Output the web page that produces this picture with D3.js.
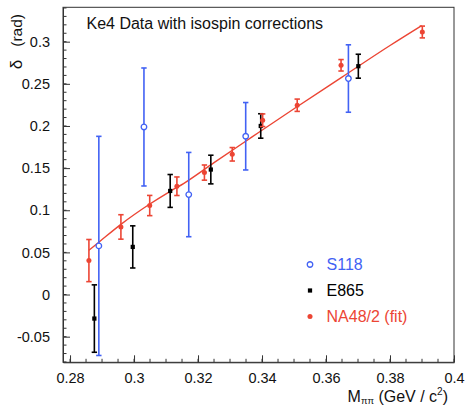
<!DOCTYPE html>
<html>
<head>
<meta charset="utf-8">
<script src="https://cdn.jsdelivr.net/npm/d3@7"></script>
<style>
  body { margin: 0; background: #fff; }
  svg { font-family: "Liberation Sans", Arial, sans-serif; }
</style>
</head>
<body>
<script>
// values
var s118X   = [0.2890, 0.3031, 0.3171, 0.3349, 0.3670];
var s118Y   = [0.0577, 0.1988, 0.1186, 0.1878, 0.2563];
var s118Err = [0.130, 0.070, 0.050, 0.040, 0.040];

var e865X   = [0.2876, 0.2996, 0.3113, 0.3240, 0.3396, 0.3701];
var e865Y   = [-0.0285, 0.0565, 0.1229, 0.1483, 0.2000, 0.2709];
var e865Err = [0.040, 0.025, 0.0195, 0.017, 0.0145, 0.0142];

var na48X   = [0.2859, 0.2959, 0.3049, 0.3134, 0.3220, 0.3307, 0.3402, 0.3510, 0.3647, 0.3901];
var na48Y   = [0.0403, 0.0802, 0.1056, 0.1285, 0.1447, 0.1664, 0.2068, 0.2246, 0.2720, 0.3115];
var na48Err = [0.025, 0.0145, 0.012, 0.011, 0.009, 0.008, 0.0075, 0.0073, 0.0068, 0.007];

var fitX = [0.2859, 0.2891, 0.2958, 0.3047, 0.3113, 0.3156, 0.3250, 0.3369, 0.3500, 0.3650, 0.3800, 0.3899];
var fitY = [0.0525, 0.0624, 0.0830, 0.1068, 0.1225, 0.1320, 0.1565, 0.1870, 0.2204, 0.2580, 0.2955, 0.3191];

var xTicks = [0.28, 0.3, 0.32, 0.34, 0.36, 0.38, 0.4];
var xTickLabels = ["0.28", "0.3", "0.32", "0.34", "0.36", "0.38", "0.4"];
var yTicks = [-0.05, 0, 0.05, 0.1, 0.15, 0.2, 0.25, 0.3];
var yTickLabels = ["-0.05", "0", "0.05", "0.1", "0.15", "0.2", "0.25", "0.3"];

var legendNames = ["S118", "E865", "NA48/2 (fit)"];

var blue = "#4262f4", red = "#ec4534", black = "#000";

var width = 466, height = 407;
var svg = d3.select("body").append("svg").attr("width", width).attr("height", height);

var x = d3.scaleLinear().domain([0.2778, 0.4]).range([63, 454]);
var y = d3.scaleLinear().domain([-0.0804, 0.3408]).range([362.3, 7.3]);

// frame
svg.append("rect")
  .attr("x", x.range()[0]).attr("y", y.range()[1])
  .attr("width", x.range()[1] - x.range()[0])
  .attr("height", y.range()[0] - y.range()[1])
  .attr("fill", "none").attr("stroke", "#333").attr("stroke-width", 1);

// minor ticks
svg.append("g").selectAll("line")
  .data(d3.range(0.28, 0.4001, 0.005))
  .enter().append("line")
  .attr("x1", function (d) { return x(d); }).attr("x2", function (d) { return x(d); })
  .attr("y1", y.range()[0]).attr("y2", y.range()[0] - 3.5)
  .attr("stroke", "#333");
svg.append("g").selectAll("line")
  .data(d3.range(-0.08, 0.3401, 0.01))
  .enter().append("line")
  .attr("x1", x.range()[0]).attr("x2", x.range()[0] + 3.5)
  .attr("y1", function (d) { return y(d); }).attr("y2", function (d) { return y(d); })
  .attr("stroke", "#333");

var xAxis = d3.axisBottom(x).tickValues(xTicks)
  .tickFormat(function (d, i) { return xTickLabels[i]; })
  .tickSizeInner(-7).tickSizeOuter(0).tickPadding(10);
var yAxis = d3.axisLeft(y).tickValues(yTicks)
  .tickFormat(function (d, i) { return yTickLabels[i]; })
  .tickSizeInner(-7).tickSizeOuter(0).tickPadding(13);

var gx = svg.append("g").attr("transform", "translate(0," + y.range()[0] + ")").call(xAxis);
var gy = svg.append("g").attr("transform", "translate(" + x.range()[0] + ",0)").call(yAxis);
[gx, gy].forEach(function (g) {
  g.select(".domain").attr("stroke", "#333");
  g.selectAll(".tick line").attr("stroke", "#333");
  g.selectAll("text").attr("font-size", 14.5).attr("fill", "#111")
    .attr("font-family", "Liberation Sans, Arial, sans-serif");
});

// title
svg.append("text").attr("x", 86.5).attr("y", 28.5)
  .attr("font-size", 16).attr("fill", "#111")
  .text("Ke4 Data with isospin corrections");

// axis titles
var yt = svg.append("text")
  .attr("transform", "translate(21.5,14) rotate(-90)")
  .attr("text-anchor", "end").attr("fill", "#111");
yt.append("tspan").attr("font-size", 17).text("δ");
yt.append("tspan").attr("font-size", 15.5).attr("dx", 13).text("(rad)");

var xt = svg.append("text").attr("x", 448).attr("y", 401.5)
  .attr("text-anchor", "end").attr("font-size", 16).attr("fill", "#111");
xt.append("tspan").text("M");
xt.append("tspan").attr("font-size", 9.5).attr("dy", 2.5).text("ππ");
xt.append("tspan").attr("dy", -2.5).text(" (GeV / c");
xt.append("tspan").attr("font-size", 10).attr("dy", -6.5).text("2");
xt.append("tspan").attr("dy", 6.5).text(")");

// fit curve
var fitData = fitX.map(function (d, i) { return [d, fitY[i]]; });
svg.append("path").datum(fitData)
  .attr("fill", "none").attr("stroke", red).attr("stroke-width", 1.4)
  .attr("d", d3.line().x(function (d) { return x(d[0]); }).y(function (d) { return y(d[1]); }).curve(d3.curveMonotoneX));

function drawSeries(xs, ys, errs, color, marker, capW) {
  var data = xs.map(function (d, i) { return { x: d, y: ys[i], e: errs[i] }; });
  var g = svg.append("g");
  g.selectAll(".bar").data(data).enter().append("line")
    .attr("x1", function (d) { return x(d.x); }).attr("x2", function (d) { return x(d.x); })
    .attr("y1", function (d) { return y(d.y + d.e); }).attr("y2", function (d) { return y(d.y - d.e); })
    .attr("stroke", color).attr("stroke-width", 1.6);
  [1, -1].forEach(function (s) {
    g.selectAll(".cap" + s).data(data).enter().append("line")
      .attr("x1", function (d) { return x(d.x) - capW; }).attr("x2", function (d) { return x(d.x) + capW; })
      .attr("y1", function (d) { return y(d.y + s * d.e); }).attr("y2", function (d) { return y(d.y + s * d.e); })
      .attr("stroke", color).attr("stroke-width", 1.6);
  });
  g.selectAll(".m").data(data).enter().append("path")
    .attr("transform", function (d) { return "translate(" + x(d.x) + "," + y(d.y) + ")"; })
    .attr("d", marker.d)
    .attr("fill", marker.fill).attr("stroke", marker.stroke).attr("stroke-width", marker.sw);
}

var openCircle = { d: d3.symbol(d3.symbolCircle, 24)(), fill: "#fff", stroke: blue, sw: 1.3 };
var square = { d: d3.symbol(d3.symbolSquare, 18)(), fill: black, stroke: "none", sw: 0 };
var dot = { d: d3.symbol(d3.symbolCircle, 20)(), fill: red, stroke: "none", sw: 0 };

drawSeries(s118X, s118Y, s118Err, blue, openCircle, 2.7);
drawSeries(e865X, e865Y, e865Err, black, square, 2.7);
drawSeries(na48X, na48Y, na48Err, red, dot, 2.7);

// legend
var legColors = [blue, black, red];
var legMarkers = [openCircle, square, dot];
var leg = svg.append("g");
legendNames.forEach(function (name, i) {
  var cy = 264.5 + i * 26;
  leg.append("path").attr("transform", "translate(310," + cy + ")")
    .attr("d", legMarkers[i].d).attr("fill", legMarkers[i].fill)
    .attr("stroke", legMarkers[i].stroke).attr("stroke-width", legMarkers[i].sw);
  leg.append("text").attr("x", 326.5).attr("y", cy + 5.5)
    .attr("font-size", 16).attr("fill", legColors[i]).text(name);
});
</script>
</body>
</html>
